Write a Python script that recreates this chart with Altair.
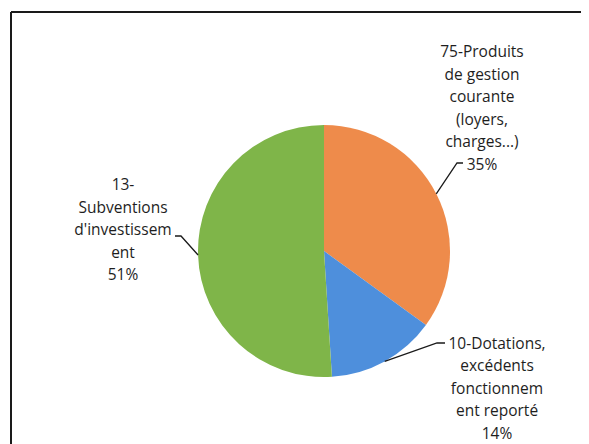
import math
import altair as alt
import pandas as pd

# ---- data ----
categories = [
    "75-Produits de gestion courante (loyers, charges...)",
    "10-Dotations, excédents fonctionnement reporté",
    "13-Subventions d'investissement",
]
values = [35, 14, 51]
label_lines = [
    ["75-Produits", "de gestion", "courante", "(loyers,", "charges...)"],
    ["10-Dotations,", "excédents", "fonctionnem", "ent reporté"],
    ["13-", "Subventions", "d'investissem", "ent"],
]
colors = ["#EE8B4B", "#4E8FDC", "#7FB549"]

# ---- layout constants (chart pixel coordinates) ----
W, H = 573, 436
CX, CY, R = 316, 243, 126
FONT = "Open Sans"
# (center x, first line y)
label_anchor = [(474, 44), (489, 335.5), (115, 177)]
leader_elbow = [[(449, 155), (455, 155)],
                [(429, 335), (437, 335)],
                [(173, 228), (167, 228)]]

df = pd.DataFrame({
    "category": categories,
    "value": values,
    "order": list(range(len(categories))),
    "lines": ["\n".join(l) for l in label_lines],
})

# leader lines: start at the slice's mid-angle on the pie edge
total = sum(values)
rows = []
cum = 0
for i, (c, v) in enumerate(zip(categories, values)):
    a = 2 * math.pi * (cum + v / 2) / total
    cum += v
    pts = [(CX + R * math.sin(a), CY - R * math.cos(a))] + leader_elbow[i]
    for s, (px, py) in enumerate(pts):
        rows.append({"category": c, "seq": s, "px": px, "py": py})
leaders = pd.DataFrame(rows)

pie = alt.Chart(df).mark_arc(outerRadius=R).encode(
    theta=alt.Theta("value:Q", stack=True),
    order=alt.Order("order:Q"),
    color=alt.Color("category:N", scale=alt.Scale(domain=categories, range=colors), legend=None),
    x=alt.value(CX),
    y=alt.value(CY),
)

lines = alt.Chart(leaders).mark_line(color="#1a1a1a", strokeWidth=1.3).encode(
    x=alt.X("px:Q", scale=None, axis=None),
    y=alt.Y("py:Q", scale=None, axis=None),
    detail="category:N",
    order="seq:Q",
)

texts = []
for i, c in enumerate(categories):
    lx, ly = label_anchor[i]
    t = (
        alt.Chart(df)
        .transform_joinaggregate(total="sum(value)")
        .transform_calculate(label="datum.lines + '\\n' + format(datum.value / datum.total, '.0%')")
        .transform_filter(alt.datum.category == c)
        .mark_text(font=FONT, fontSize=15.5, lineBreak="\n", lineHeight=22.6,
                   align="center", baseline="middle", color="#1e1e1e")
        .encode(text="label:N", x=alt.value(lx), y=alt.value(ly))
    )
    texts.append(t)

frame_top = alt.Chart(df).mark_rule(color="#1a1a1a", strokeWidth=2).encode(
    x=alt.value(3), x2=alt.value(W), y=alt.value(4))
frame_left = alt.Chart(df).mark_rule(color="#1a1a1a", strokeWidth=2).encode(
    x=alt.value(3), y=alt.value(4), y2=alt.value(H))

chart = alt.layer(pie, lines, *texts, frame_top, frame_left).properties(
    width=W, height=H, padding=0, autosize=alt.AutoSizeParams(type="none"),
    background="white",
).configure_view(stroke=None)

chart.save("out.html", embed_options={"renderer": "svg", "actions": False})
